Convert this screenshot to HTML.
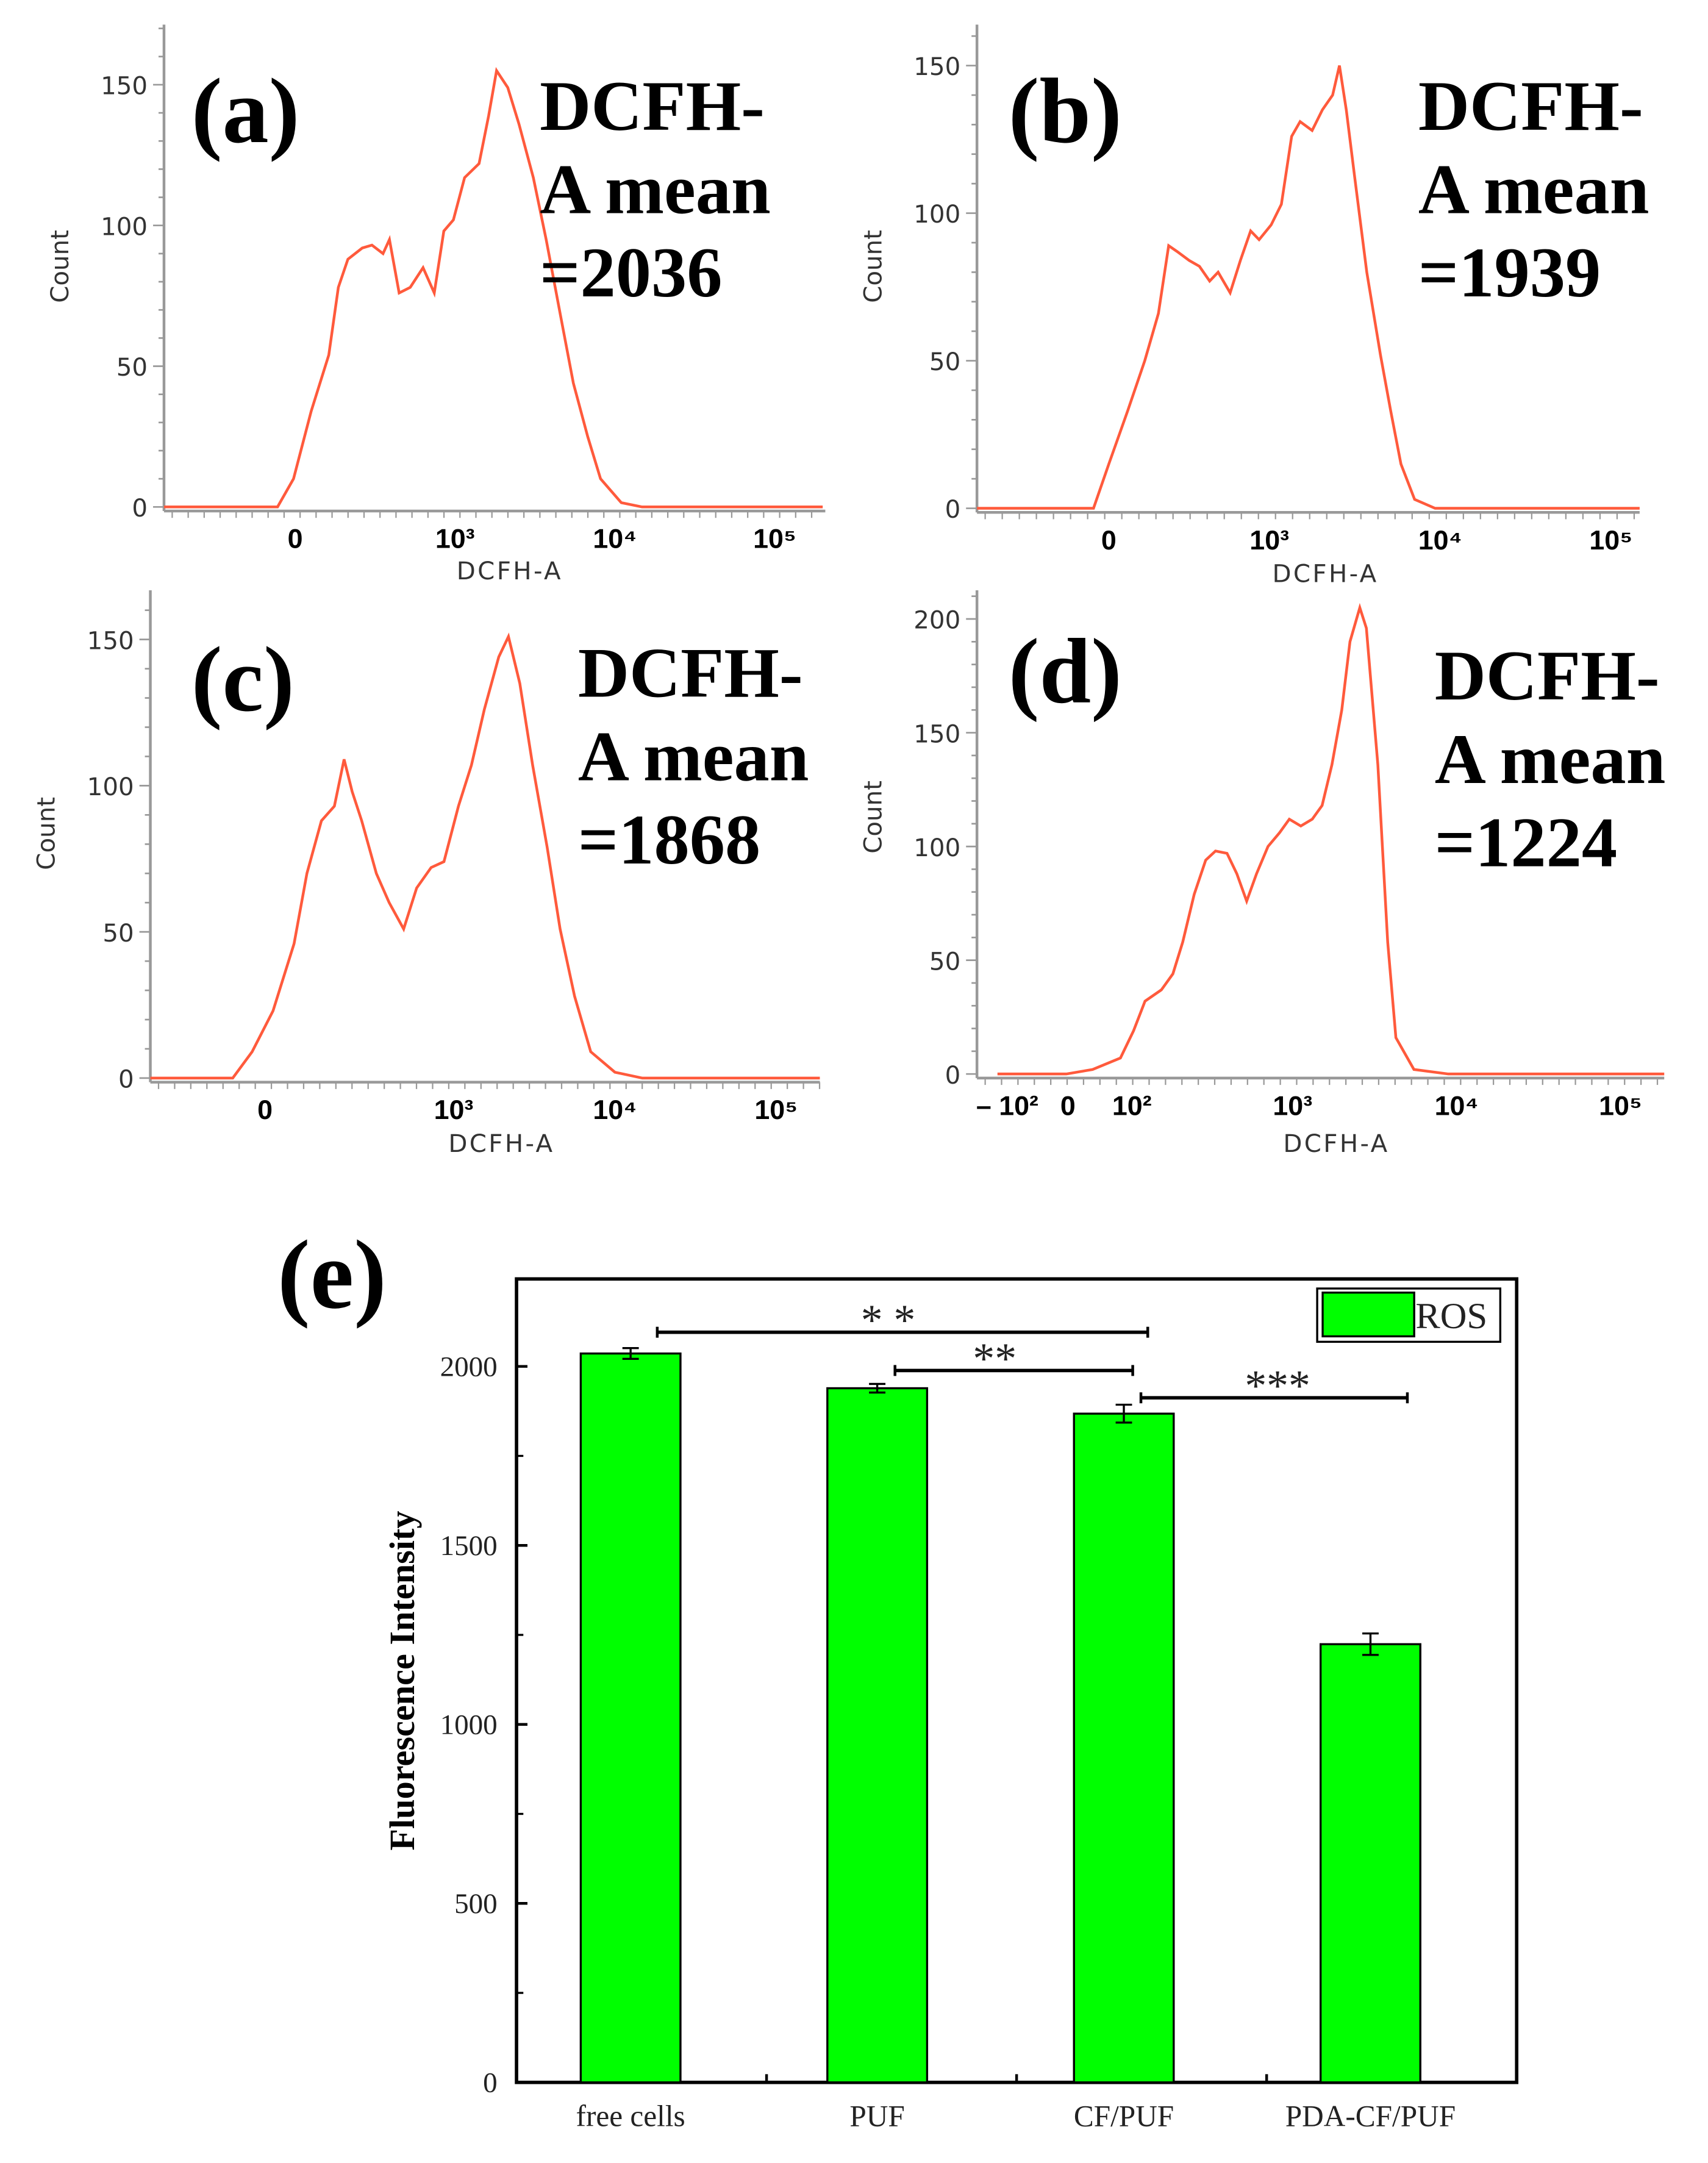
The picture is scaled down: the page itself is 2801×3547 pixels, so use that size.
<!DOCTYPE html>
<html><head><meta charset="utf-8"><style>
html,body{margin:0;padding:0;background:#fff;}
svg{display:block;}
.tk{font-family:"DejaVu Sans",sans-serif;font-size:18px;fill:#333;}
.xt{font-family:"Liberation Sans",sans-serif;font-weight:bold;font-size:20px;fill:#000;}
.big{font-family:"Liberation Serif",serif;font-weight:bold;fill:#000;}
.tn{font-family:"Liberation Serif",serif;fill:#222;}
</style></head><body>
<svg id="fig" width="2801" height="3547" viewBox="0 0 1250 1583" xmlns="http://www.w3.org/2000/svg"></svg>
<script>
// ---- histogram data (x in log-decade units, count) ----
const aX=[1.0,1.89,1.99,2.10,2.21,2.27,2.33,2.42,2.48,2.55,2.59,2.65,2.72,2.80,2.87,2.93,2.99,3.06,3.15,3.21,3.26,3.33,3.40,3.49,3.57,3.66,3.74,3.83,3.91,4.04,4.17,5.3];
const aY=[0,0,10,34,54,78,88,92,93,90,95,76,78,85,76,98,102,117,122,139,155,149,136,117,95,68,44,25,10,1.5,0,0];
const bX=[1.0,1.97,2.06,2.17,2.27,2.35,2.41,2.46,2.53,2.59,2.65,2.70,2.77,2.83,2.89,2.94,3.01,3.07,3.13,3.18,3.25,3.31,3.37,3.41,3.45,3.50,3.57,3.65,3.71,3.77,3.85,3.97,5.3];
const bY=[0,0,15,33,50,66,89,87,84,82,77,80,73,84,94,91,96,103,126,131,128,135,140,150,135,112,80,52,33,15,3,0,0];
const cX=[0.8,1.63,1.75,1.88,2.01,2.09,2.18,2.26,2.32,2.37,2.43,2.52,2.60,2.69,2.77,2.86,2.94,3.03,3.11,3.19,3.28,3.34,3.41,3.49,3.58,3.66,3.75,3.85,4.0,4.17,5.3];
const cY=[0,0,9,23,46,70,88,93,109,98,88,70,60,51,65,72,74,93,107,126,144,151,135,107,79,51,28,9,2,0,0];
const dX=[1.2,1.62,1.78,1.95,2.03,2.10,2.20,2.27,2.33,2.40,2.47,2.53,2.60,2.66,2.72,2.78,2.85,2.92,2.98,3.05,3.12,3.18,3.24,3.30,3.35,3.41,3.45,3.52,3.58,3.63,3.74,3.95,5.3];
const dY=[0,0,2,7,19,32,37,44,58,79,94,98,97,88,76,88,100,106,112,109,112,118,136,160,190,205,196,136,58,16,2,0,0];
// tick labels
const aTicks=["0","10³","10⁴","10⁵"];
const dTicks=["– 10²","0","10²","10³","10⁴","10⁵"];
// ---- bar chart data ----
const cats=["free cells","PUF","CF/PUF","PDA-CF/PUF"];
const vals=[2036,1939,1868,1224];
const errs=[15,12,25,30];
const yTicks=[0,500,1000,1500,2000];

const NS="http://www.w3.org/2000/svg";
const svg=document.getElementById('fig');
function el(tag,attrs,parent,text){const e=document.createElementNS(NS,tag);for(const k in attrs)e.setAttribute(k,attrs[k]);if(text!==undefined)e.textContent=text;(parent||svg).appendChild(e);return e;}

function hist(p){
  const g=el('g',{});
  
  
  const sx=v=>p.x3+(v-3)*p.dec;
  const sy=c=>p.y0-c*p.py;
  el('line',{x1:p.ax,y1:p.top,x2:p.ax,y2:p.y0+3,stroke:'#999','stroke-width':2},g);
  el('line',{x1:p.ax,y1:p.y0+3,x2:p.xe,y2:p.y0+3,stroke:'#999','stroke-width':2},g);
  for(let c=0;sy(c)>=p.top;c+=10){
    const major=c%50===0;
    el('line',{x1:p.ax-(major?8:4),y1:sy(c),x2:p.ax,y2:sy(c),stroke:'#999','stroke-width':1.2},g);
    if(major){const t=el('text',{x:p.ax-12,y:sy(c)+7,'text-anchor':'end',class:'tk'},g,String(c));
      }
  }
  for(let x=p.ax+6;x<p.xe;x+=p.dec/10){el('line',{x1:x,y1:p.y0+3,x2:x,y2:p.y0+8,stroke:'#999','stroke-width':1},g);}
  p.ticks.forEach((lab,i)=>{const t=el('text',{x:sx(p.tickPos[i]),y:p.y0+30,'text-anchor':'middle',class:'xt'},g,lab);
    });
  let d='';p.X.forEach((v,i)=>{d+=(i?'L':'M')+Math.max(p.ax,Math.min(p.xe,sx(v))).toFixed(1)+','+sy(p.Y[i]).toFixed(1);});
  const path=el('path',{d:d,fill:'none',stroke:'#ff5a3c','stroke-width':2},g);
  
  const xl=el('text',{x:p.xl[0],y:p.xl[1],'text-anchor':'middle',class:'tk','font-size':'23','letter-spacing':'1.5'},g,'DCFH-A');
  
  const yl=el('text',{x:0,y:0,transform:`translate(${p.yl[0]},${p.yl[1]}) rotate(-90)`,'text-anchor':'middle',class:'tk','font-size':'27'},g,'Count');
  
  const lb=el('text',{x:p.lab[0],y:p.lab[1],class:'big','font-size':'68'},g,'('+p.id+')');
  
  p.txt.forEach((s,i)=>{const t=el('text',{x:p.tx,y:p.ty+i*61,class:'big','font-size':'52','xml:space':'preserve'},g,s);
    });
}
hist({id:'a',ax:120,top:18,y0:371,py:103/50,x3:333,dec:117,xe:604,X:aX,Y:aY,ticks:aTicks,tickPos:[2.0,3,4,5],xl:[373,424],yl:[50,195],lab:[140,104],tx:395,ty:95,txt:['DCFH-','A  mean','=2036']});
hist({id:'b',ax:715,top:18,y0:372,py:108/50,x3:929,dec:125,xe:1200,X:bX,Y:bY,ticks:aTicks,tickPos:[2.06,3,4,5],xl:[970,426],yl:[645,195],lab:[738,104],tx:1038,ty:95,txt:['DCFH-','A  mean','=1939']});
hist({id:'c',ax:110,top:432,y0:789,py:107/50,x3:332,dec:118,xe:600,X:cX,Y:cY,ticks:aTicks,tickPos:[1.83,3,4,5],xl:[367,843],yl:[40,610],lab:[140,520],tx:423,ty:510,txt:['DCFH-','A  mean','=1868']});
hist({id:'d',ax:715,top:432,y0:786,py:83.25/50,x3:946,dec:120,xe:1218,X:dX,Y:dY,ticks:dTicks,tickPos:[1.26,1.63,2.02,3,4,5],xl:[978,843],yl:[645,598],lab:[738,514],tx:1050,ty:512,txt:['DCFH-','A  mean','=1224']});

// ---- bar chart (e) ----
const L=378,R=1110,T=936,B=1524;
const yS=v=>B-v*(524/2000);
const step=(R-L)/4;
const ge=el('g',{});

el('rect',{x:L,y:T,width:R-L,height:B-T,fill:'none',stroke:'#000','stroke-width':2.5},ge);
yTicks.forEach(v=>{el('line',{x1:L,y1:yS(v),x2:L+8,y2:yS(v),stroke:'#000','stroke-width':2},ge);
  const t=el('text',{x:L-14,y:yS(v)+7,'text-anchor':'end',class:'tn','font-size':'21'},ge,String(v));
  });
[250,750,1250,1750].forEach(v=>el('line',{x1:L,y1:yS(v),x2:L+5,y2:yS(v),stroke:'#000','stroke-width':1.5},ge));
[1,2,3].forEach(i=>el('line',{x1:L+step*i,y1:B,x2:L+step*i,y2:B-6,stroke:'#000','stroke-width':2},ge));
cats.forEach((c,i)=>{
  const x=L+step*(i+0.5)-(8+i*2.5);
  const r=el('rect',{x:x-36.5,y:yS(vals[i]),width:73,height:B-yS(vals[i]),fill:'#00ff00',stroke:'#000','stroke-width':1.5},ge);
  
  const e1=yS(vals[i]+errs[i]),e2=yS(vals[i]-errs[i]);
  el('line',{x1:x,y1:e1,x2:x,y2:e2,stroke:'#000','stroke-width':1.5},ge);
  el('line',{x1:x-6,y1:e1,x2:x+6,y2:e1,stroke:'#000','stroke-width':1.5},ge);
  el('line',{x1:x-6,y1:e2,x2:x+6,y2:e2,stroke:'#000','stroke-width':1.5},ge);
  const t=el('text',{x:x,y:1556,'text-anchor':'middle',class:'tn','font-size':'22'},ge,c);
  
});
[[481,840,975,'* *',650],[655,829,1003,'**',728],[835,1030,1023,'***',935]].forEach(s=>{
  el('line',{x1:s[0],y1:s[2],x2:s[1],y2:s[2],stroke:'#000','stroke-width':2.5},ge);
  el('line',{x1:s[0],y1:s[2]-4,x2:s[0],y2:s[2]+4,stroke:'#000','stroke-width':2},ge);
  el('line',{x1:s[1],y1:s[2]-4,x2:s[1],y2:s[2]+4,stroke:'#000','stroke-width':2},ge);
  const t=el('text',{x:s[4],y:s[2]+2,'text-anchor':'middle',class:'tn','font-size':'32','xml:space':'preserve'},ge,s[3]);
  
});
const lg=el('g',{},ge);

el('rect',{x:964,y:943,width:134,height:39,fill:'#fff',stroke:'#000','stroke-width':1.5},lg);
el('rect',{x:968,y:946,width:67,height:32,fill:'#00ff00',stroke:'#000','stroke-width':1.5},lg);
el('text',{x:1036,y:972,class:'tn','font-size':'27'},lg,'ROS');
const ey=el('text',{x:0,y:0,transform:'translate(303,1230) rotate(-90)','text-anchor':'middle',class:'big','font-size':'26'},ge,'Fluorescence Intensity');

const el2=el('text',{x:203,y:957,class:'big','font-size':'72'},ge,'(e)');

</script>
</body></html>
